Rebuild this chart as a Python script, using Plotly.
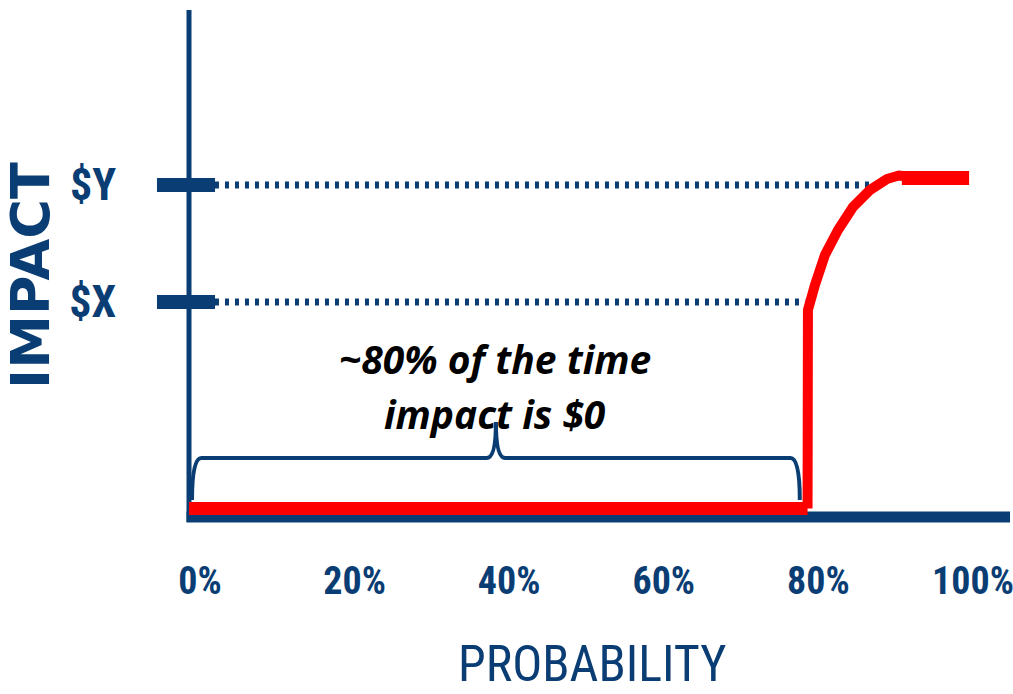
import plotly.graph_objects as go

NAVY = "#0A3D73"
RED = "#FF0000"

# Probability axis (percent) and impact levels
prob_ticks = [0, 20, 40, 60, 80, 100]
prob_labels = ["0%", "20%", "40%", "60%", "80%", "100%"]
impact_x = 2.065
impact_y = 3.235
impact_levels = [impact_x, impact_y]
impact_labels = ["$X", "$Y"]

# Impact curve: zero up to ~79%, then a jump to $X rising to just above $Y
flat_prob = [-1.42, 78.6]
flat_impact = [0, 0]
rise_prob = [78.6, 78.65, 79.56, 80.85, 82.54, 84.48, 86.68, 88.87, 90.4, 91.5]
rise_impact = [0, 1.985, 2.235, 2.535, 2.785, 3.015, 3.185, 3.295, 3.33, 3.32]
top_prob = [90.8, 99.5]
top_impact = [3.305, 3.305]

# Where the dotted guides end (meeting the curve)
guide_x_end = 78.3
guide_y_end = 86.7
guide_start = 1.94

# Brace spanning the zero-impact region
brace_left, brace_right = -1.03, 77.6
brace_bottom, brace_mid, brace_tip = 0.085, 0.505, 0.865

x_min, x_max = -1.42, 104.79
y_min, y_max = -0.085, 4.985

fig = go.Figure()

# dotted guide lines at $X and $Y
for level, end in ((impact_x, guide_x_end), (impact_y, guide_y_end)):
    fig.add_trace(go.Scatter(
        x=[guide_start, end], y=[level, level], mode="lines",
        line=dict(color=NAVY, width=7, dash="4px,6px"),
        hoverinfo="skip", showlegend=False))

# impact curve
fig.add_trace(go.Scatter(x=flat_prob, y=flat_impact, mode="lines",
                         line=dict(color=RED, width=13), showlegend=False))
fig.add_trace(go.Scatter(x=rise_prob, y=rise_impact, mode="lines",
                         line=dict(color=RED, width=10), showlegend=False))
fig.add_trace(go.Scatter(x=top_prob, y=top_impact, mode="lines",
                         line=dict(color=RED, width=14), showlegend=False))

# curly brace
mid = (brace_left + brace_right) / 2
dx = 1.2
brace_path = (
    f"M {brace_left},{brace_bottom} "
    f"Q {brace_left},{brace_mid} {brace_left + dx},{brace_mid} "
    f"L {mid - dx},{brace_mid} "
    f"Q {mid},{brace_mid} {mid},{brace_tip} "
    f"Q {mid},{brace_mid} {mid + dx},{brace_mid} "
    f"L {brace_right - dx},{brace_mid} "
    f"Q {brace_right},{brace_mid} {brace_right},{brace_bottom}"
)
fig.add_shape(type="path", path=brace_path, xref="x", yref="y",
              line=dict(color=NAVY, width=4))

# axis lines
fig.add_shape(type="line", xref="paper", yref="paper", x0=0, x1=0, y0=-0.01, y1=1,
              line=dict(color=NAVY, width=5), layer="below")
fig.add_shape(type="line", xref="paper", yref="paper", x0=-0.003, x1=1, y0=0, y1=0,
              line=dict(color=NAVY, width=11), layer="below")

# tick bars on the impact axis
for level in impact_levels:
    fig.add_shape(type="line", xref="paper", yref="y", x0=-0.039, x1=0.0317,
                  y0=level, y1=level, line=dict(color=NAVY, width=14))

note_font = dict(family="Open Sans", size=39, color="black", weight="bold", style="italic")
fig.add_annotation(x=38.2, y=1.5, xref="x", yref="y", xanchor="center", yanchor="middle",
                   text="~80% of the time", showarrow=False, font=note_font)
fig.add_annotation(x=38.2, y=0.95, xref="x", yref="y", xanchor="center", yanchor="middle",
                   text="impact is $0", showarrow=False, font=note_font)

fig.add_annotation(
    x=-0.194, y=0.477, xref="paper", yref="paper", xanchor="center", yanchor="middle",
    text="IMPACT", textangle=-90, showarrow=False,
    font=dict(family="DejaVu Sans", size=54, color=NAVY, weight="bold"))

fig.add_annotation(
    x=0.491, y=-0.29, xref="paper", yref="paper", xanchor="center", yanchor="middle",
    text="PROBABILITY", showarrow=False,
    font=dict(family="Liberation Sans Narrow, Roboto Condensed, Liberation Sans",
              size=50, color=NAVY))

narrow = "Liberation Sans Narrow, Roboto Condensed, Liberation Sans"

fig.update_layout(
    width=1013, height=694,
    margin=dict(l=189, r=3, t=10, b=177),
    plot_bgcolor="white", paper_bgcolor="white",
    xaxis=dict(range=[x_min, x_max], tickvals=prob_ticks, ticktext=prob_labels,
               showgrid=False, zeroline=False, showline=False, ticks="",
               tickfont=dict(family=narrow, size=38, color=NAVY, weight="bold"),
               ticklabelstandoff=38, ticklabeloverflow="allow", automargin=False),
    yaxis=dict(range=[y_min, y_max], tickvals=impact_levels, ticktext=impact_labels,
               showgrid=False, zeroline=False, showline=False, ticks="",
               tickfont=dict(family=narrow, size=44, color=NAVY, weight="bold"),
               ticklabelstandoff=72, ticklabeloverflow="allow", automargin=False),
)

fig.write_html("out.html")
